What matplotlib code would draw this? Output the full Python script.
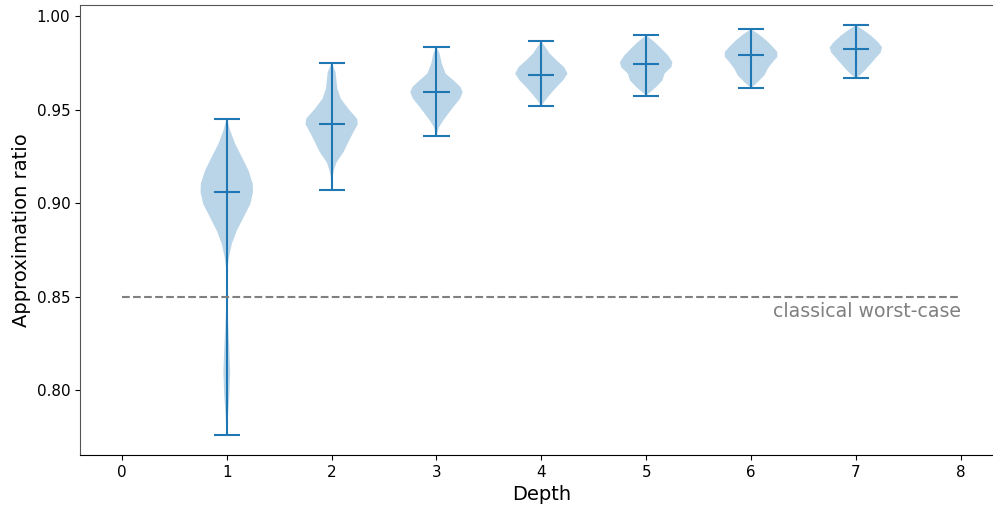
import matplotlib
matplotlib.use("Agg")
import matplotlib.pyplot as plt
import numpy as np

depths = [1, 2, 3, 4, 5, 6, 7]

# Extremes and means
mins = [0.7764, 0.9073, 0.9357, 0.9518, 0.9575, 0.9616, 0.9668]
maxs = [0.9453, 0.9752, 0.9836, 0.9866, 0.9898, 0.9930, 0.9952]
means = [0.9059, 0.9423, 0.9595, 0.9684, 0.9747, 0.9795, 0.9823]

# Violin outlines (value, relative half-width)
coords_1 = [0.9454, 0.9389, 0.9318, 0.9246, 0.9175, 0.9104, 0.9059, 0.8996, 0.8925, 0.8853,
            0.8782, 0.8710, 0.8657, 0.8603, 0.8514, 0.8389, 0.8246, 0.8103, 0.7979, 0.7853, 0.7764]
dens_1 = [0.0, 0.13, 0.32, 0.58, 0.83, 0.99, 1.0, 0.90, 0.64, 0.38,
          0.19, 0.08, 0.03, 0.008, 0.006, 0.04, 0.09, 0.13, 0.10, 0.04, 0.005]

coords_2 = [0.9752, 0.9702, 0.9648, 0.9612, 0.9559, 0.9505, 0.9452, 0.9423, 0.9380, 0.9327,
            0.9273, 0.9219, 0.9184, 0.9148, 0.9112, 0.9073]
dens_2 = [0.0, 0.15, 0.19, 0.22, 0.35, 0.64, 0.97, 1.0, 0.83, 0.64,
          0.45, 0.19, 0.10, 0.04, 0.015, 0.0]

coords_3 = [0.9836, 0.9800, 0.9747, 0.9693, 0.9657, 0.9621, 0.9594, 0.9559, 0.9514, 0.9479,
            0.9443, 0.9407, 0.9380, 0.9357]
dens_3 = [0.0, 0.12, 0.20, 0.35, 0.65, 0.92, 1.0, 0.90, 0.64, 0.45, 0.26, 0.10, 0.04, 0.0]

coords_4 = [0.9866, 0.9836, 0.9800, 0.9764, 0.9728, 0.9693, 0.9657, 0.9621, 0.9586, 0.9550, 0.9518]
dens_4 = [0.0, 0.15, 0.32, 0.58, 0.87, 1.0, 0.83, 0.58, 0.36, 0.15, 0.0]

coords_5 = [0.9898, 0.9862, 0.9827, 0.9791, 0.9755, 0.9728, 0.9693, 0.9657, 0.9621, 0.9594, 0.9575]
dens_5 = [0.0, 0.32, 0.58, 0.83, 1.0, 0.96, 0.70, 0.62, 0.38, 0.15, 0.0]

coords_6 = [0.9930, 0.9907, 0.9871, 0.9836, 0.9809, 0.9782, 0.9755, 0.9720, 0.9684, 0.9648, 0.9616]
dens_6 = [0.0, 0.26, 0.58, 0.83, 1.0, 1.0, 0.83, 0.64, 0.51, 0.26, 0.0]

coords_7 = [0.9952, 0.9925, 0.9893, 0.9861, 0.9834, 0.9807, 0.9775, 0.9743, 0.9711, 0.9684, 0.9668]
dens_7 = [0.0, 0.30, 0.60, 0.85, 1.0, 0.95, 0.75, 0.55, 0.35, 0.15, 0.0]

coords_all = [coords_1, coords_2, coords_3, coords_4, coords_5, coords_6, coords_7]
dens_all = [dens_1, dens_2, dens_3, dens_4, dens_5, dens_6, dens_7]

threshold = 0.85
threshold_label = "classical worst-case"
xticks = [0, 1, 2, 3, 4, 5, 6, 7, 8]

vpstats = []
for c, d, mn, mx, mu in zip(coords_all, dens_all, mins, maxs, means):
    vpstats.append(dict(coords=np.array(c), vals=np.array(d), mean=mu, median=mu,
                        min=mn, max=mx))

fig = plt.figure(figsize=(9.93, 5.07), dpi=100)
ax = fig.add_axes([80 / 993, 1 - 455 / 507, (1002.7 - 80) / 993, (455 - 4.7) / 507])

ax.violin(vpstats, positions=depths, widths=0.5, showmeans=True, showextrema=True)
ax.hlines(threshold, xticks[0], xticks[-1], colors="gray", linestyles="--", linewidth=1.5)
ax.text(xticks[-1], threshold - 0.0025, threshold_label, ha="right", va="top",
        color="gray", fontsize=13.6)

ax.set_xticks(xticks)
ax.set_yticks([0.80, 0.85, 0.90, 0.95, 1.00])
ax.set_yticklabels(["0.80", "0.85", "0.90", "0.95", "1.00"])
ax.tick_params(labelsize=10.9)
for side in ("left", "top"):
    ax.spines[side].set_color("#555555")
ax.set_xlabel("Depth", fontsize=14)
ax.set_ylabel("Approximation ratio", fontsize=14)

fig.savefig("out.png", dpi=100)
